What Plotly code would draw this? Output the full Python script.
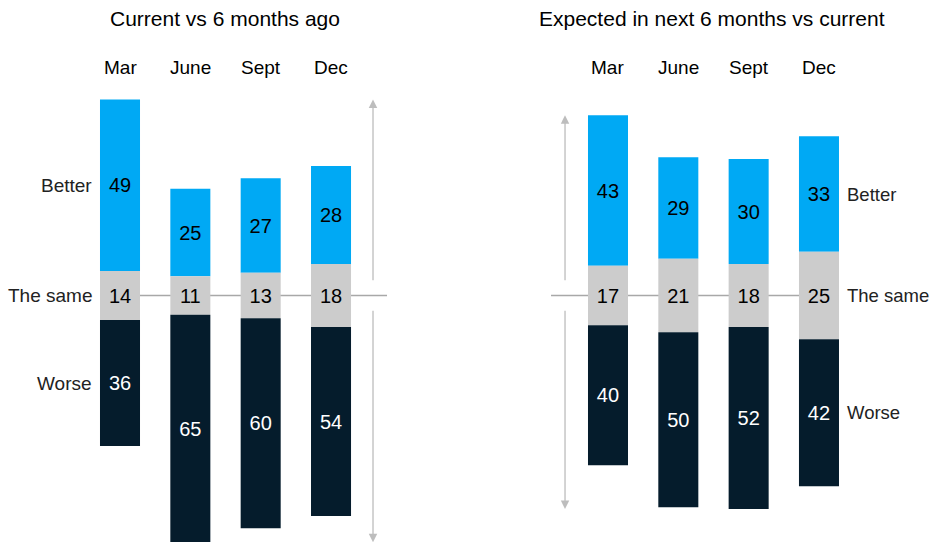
import plotly.graph_objects as go

# ---- data ----
categories = ["Mar", "June", "Sept", "Dec"]
row_labels = ["Better", "The same", "Worse"]
titles = ["Current vs 6 months ago", "Expected in next 6 months vs current"]

current_better = [49, 25, 27, 28]
current_same = [14, 11, 13, 18]
current_worse = [36, 65, 60, 54]

expected_better = [43, 29, 30, 33]
expected_same = [17, 21, 18, 25]
expected_worse = [40, 50, 52, 42]

# ---- style ----
C_BETTER = "#00A9F4"
C_SAME = "#CCCCCC"
C_WORSE = "#051C2C"
C_GUIDE = "#BDBDBD"
FONT = "Liberation Sans"
BAR_W = 0.569

fig = go.Figure()

panels = [
    dict(better=current_better, same=current_same, worse=current_worse,
         xa="x", ya="y", title=titles[0]),
    dict(better=expected_better, same=expected_same, worse=expected_worse,
         xa="x2", ya="y2", title=titles[1]),
]

for p in panels:
    b, s, w = p["better"], p["same"], p["worse"]
    base_b = [v / 2 for v in s]
    base_s = [-v / 2 for v in s]
    base_w = [-sv / 2 - wv for sv, wv in zip(s, w)]
    for vals, base, col, tcol in [
        (b, base_b, C_BETTER, "#000000"),
        (s, base_s, C_SAME, "#000000"),
        (w, base_w, C_WORSE, "#FFFFFF"),
    ]:
        fig.add_trace(go.Bar(
            x=categories, y=vals, base=base, width=BAR_W,
            marker=dict(color=col, line=dict(width=0)),
            text=vals, texttemplate="%{text}", textposition="inside",
            insidetextanchor="middle", textangle=0,
            textfont=dict(color=tcol, size=20, family=FONT),
            constraintext="none", cliponaxis=False,
            hoverinfo="skip", showlegend=False,
            xaxis=p["xa"], yaxis=p["ya"],
        ))

# y scale: 3.5 px per unit, zero at 295.5 px of 542
H = 542
PX_PER = 3.5
ZERO_PX = 295.5
y_top = ZERO_PX / PX_PER
y_bot = -(H - ZERO_PX) / PX_PER

left_range = [-1.706, 4.919]
right_range = [-2.019, 4.607]

layout = dict(
    width=932, height=542,
    margin=dict(l=0, r=0, t=0, b=0),
    paper_bgcolor="white", plot_bgcolor="white",
    barmode="overlay",
    font=dict(family=FONT, size=19, color="#000000"),
    xaxis=dict(domain=[0, 0.5], range=left_range, visible=False, anchor="y",
               categoryorder="array", categoryarray=categories, fixedrange=True),
    xaxis2=dict(domain=[0.5, 1], range=right_range, visible=False, anchor="y2",
                categoryorder="array", categoryarray=categories, fixedrange=True),
    yaxis=dict(range=[y_bot, y_top], visible=False, anchor="x", fixedrange=True),
    yaxis2=dict(range=[y_bot, y_top], visible=False, anchor="x2", fixedrange=True),
)
fig.update_layout(**layout)

shapes = []
annotations = []
GAP = 3.9

lb_top = max(sv / 2 + bv for sv, bv in zip(current_same, current_better))
lb_bot = min(-sv / 2 - wv for sv, wv in zip(current_same, current_worse))
rb_top = max(sv / 2 + bv for sv, bv in zip(expected_same, expected_better))
rb_bot = min(-sv / 2 - wv for sv, wv in zip(expected_same, expected_worse))

guide_cfg = [
    dict(xa="x", ya="y", line=(-BAR_W / 2, 3.796), ax_x=3.597, top=lb_top, bot=lb_bot),
    dict(xa="x2", ya="y2", line=(-0.81, 3 + BAR_W / 2), ax_x=-0.611, top=rb_top, bot=rb_bot),
]
for g in guide_cfg:
    shapes.append(dict(type="line", xref=g["xa"], yref=g["ya"],
                       x0=g["line"][0], x1=g["line"][1], y0=0, y1=0,
                       line=dict(color="#A8A8A8", width=1.5), layer="below"))
    for tip, tail in [(g["top"], GAP), (g["bot"], -GAP)]:
        annotations.append(dict(
            xref=g["xa"], yref=g["ya"], axref=g["xa"], ayref=g["ya"],
            x=g["ax_x"], y=tip, ax=g["ax_x"], ay=tail, text="",
            showarrow=True, arrowhead=2, arrowsize=1.3, arrowwidth=1.3,
            arrowcolor=C_GUIDE, standoff=0, startstandoff=0))

annotations.append(dict(xref="paper", yref="paper", x=225 / 932, y=1 - 19 / H,
                        text=titles[0], showarrow=False, xanchor="center", yanchor="middle",
                        font=dict(size=21)))
annotations.append(dict(xref="paper", yref="paper", x=712 / 932, y=1 - 19 / H,
                        text=titles[1], showarrow=False, xanchor="center", yanchor="middle",
                        font=dict(size=21)))

for xa in ["x", "x2"]:
    for c in categories:
        annotations.append(dict(xref=xa, yref="paper", x=c, y=1 - 68 / H, text=c,
                                showarrow=False, xanchor="center", yanchor="middle",
                                font=dict(size=19)))

def centers(b, s, w, i):
    return [s[i] / 2 + b[i] / 2, 0, -s[i] / 2 - w[i] / 2]

lc = centers(current_better, current_same, current_worse, 0)
rc = centers(expected_better, expected_same, expected_worse, 3)
for lab, yv in zip(row_labels, lc):
    annotations.append(dict(xref="x", yref="y", x=-BAR_W / 2 - 0.09, y=yv, text=lab,
                            showarrow=False, xanchor="right", yanchor="middle",
                            font=dict(size=19, color="#222222")))
for lab, yv in zip(row_labels, rc):
    annotations.append(dict(xref="x2", yref="y2", x=3 + BAR_W / 2 + 0.09, y=yv, text=lab,
                            showarrow=False, xanchor="left", yanchor="middle",
                            font=dict(size=18.5, color="#222222")))

fig.update_layout(shapes=shapes, annotations=annotations)
fig.write_html("out.html", config={"displayModeBar": False},
               post_script="document.body.style.margin='0';")
